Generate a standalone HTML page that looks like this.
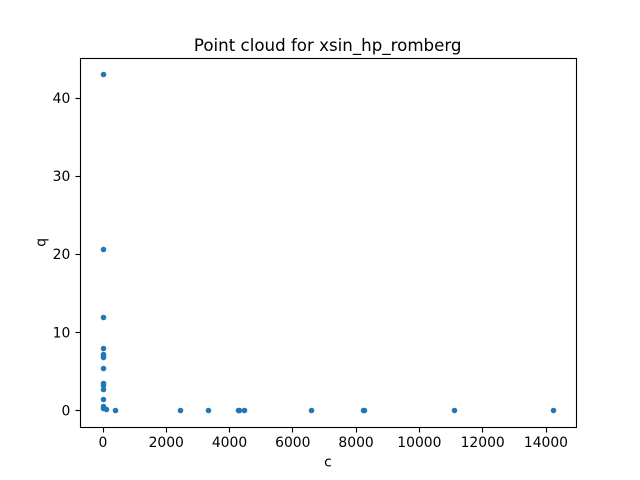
<!DOCTYPE html>
<html lang="en">
<head>
<meta charset="utf-8">
<title>Point cloud for xsin_hp_romberg</title>
<style>
html,body{margin:0;padding:0;background:#fff;}
svg{display:block;}
text{font-family:"DejaVu Sans","Liberation Sans",sans-serif;fill:#000;}
</style>
</head>
<body>
<svg id="chart" xmlns="http://www.w3.org/2000/svg" width="640" height="480" viewBox="0 0 640 480">
  <rect x="0" y="0" width="640" height="480" fill="#ffffff"/>
  <rect x="80" y="58" width="496" height="369" fill="#ffffff"/>
  <g id="points"></g>
  <g id="x-axis"></g>
  <g id="y-axis"></g>
  <rect x="80.5" y="58.5" width="496" height="369" fill="none" stroke="#000" stroke-width="1.11"/>
  <text x="327.7" y="51" font-size="16.67" text-anchor="middle">Point cloud for xsin_hp_romberg</text>
  <text x="328" y="466.5" font-size="13.89" text-anchor="middle">c</text>
  <text transform="translate(45.5,242.4) rotate(-90)" font-size="13.89" text-anchor="middle">q</text>
</svg>
<script>
const cValues = [5, 5, 5, 5, 5, 5, 5, 5, 5, 5, 5, 5, 5, 20, 110, 400, 2460, 3345, 4270, 4325, 4480, 6600, 8220, 8260, 11115, 14250];
const qValues = [43, 20.6, 11.9, 7.95, 7.2, 7.0, 6.8, 5.4, 3.55, 3.3, 2.74, 1.42, 0.52, 0.35, 0.14, 0.03, 0.02, 0.02, 0.02, 0.02, 0.02, 0.02, 0.02, 0.02, 0.02, 0.02];
const xTicks = [0, 2000, 4000, 6000, 8000, 10000, 12000, 14000];
const yTicks = [0, 10, 20, 30, 40];

const NS = 'http://www.w3.org/2000/svg';
const plotLeft = 80, plotRight = 576, plotTop = 57.6, plotBottom = 427.2;
const xMin = -712, xMax = 14962, yMin = -2.15, yMax = 45.15;

function xScale(v) {
  return plotLeft + (v - xMin) / (xMax - xMin) * (plotRight - plotLeft);
}
function yScale(v) {
  return plotBottom - (v - yMin) / (yMax - yMin) * (plotBottom - plotTop);
}
function snap(p) {
  return Math.floor(p + 0.5) + 0.5;
}
function make(tag, attrs) {
  const el = document.createElementNS(NS, tag);
  Object.keys(attrs).forEach(function (k) { el.setAttribute(k, attrs[k]); });
  return el;
}

const pointsGroup = document.getElementById('points');
cValues.forEach(function (c, i) {
  const dot = make('circle', { cx: snap(xScale(c)), cy: snap(yScale(qValues[i])), r: 2.78, fill: '#1f77b4' });
  
  
  pointsGroup.appendChild(dot);
});

const xGroup = document.getElementById('x-axis');
xTicks.forEach(function (t) {
  const x = xScale(t);
  const sx = snap(x);
  const tick = make('line', { x1: sx, x2: sx, y1: 427.5, y2: 432.5, stroke: '#000', 'stroke-width': 1.11 });
  
  
  xGroup.appendChild(tick);
  const label = make('text', { x: x + 0.4, y: 447, 'font-size': 13.89, 'text-anchor': 'middle' });
  
  
  label.textContent = String(t);
  xGroup.appendChild(label);
});

const yGroup = document.getElementById('y-axis');
yTicks.forEach(function (t) {
  const y = yScale(t);
  const sy = snap(y);
  const tick = make('line', { x1: 75.5, x2: 80.5, y1: sy, y2: sy, stroke: '#000', 'stroke-width': 1.11 });
  
  
  yGroup.appendChild(tick);
  const label = make('text', { x: 70.3, y: y + 5.05, 'font-size': 13.89, 'text-anchor': 'end' });
  
  
  label.textContent = String(t);
  yGroup.appendChild(label);
});
</script>
</body>
</html>
